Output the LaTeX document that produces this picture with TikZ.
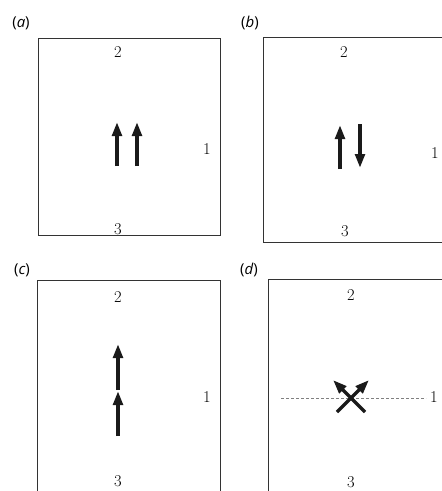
\documentclass[tikz,border=0pt]{standalone}
\usepackage{fontspec}
\newfontfamily\labfont{Open Sans}
\usetikzlibrary{arrows.meta}
\definecolor{boxc}{HTML}{333333}
\definecolor{arrc}{HTML}{1A1A1A}
\tikzset{
  panelbox/.style={draw=boxc, line width=0.9pt},
  spinarrow/.style={draw=arrc, line width=3.5pt, -{Triangle[length=14pt,width=9.5pt]}},
  num/.style={inner sep=0pt, text=black, font=\fontsize{16.5}{17}\selectfont},
  panlab/.style={inner sep=0pt, text=black, font=\labfont\fontsize{15}{16}\selectfont},
  guide/.style={draw=gray, line width=0.8pt, dash pattern=on 3pt off 2pt},
}
\begin{document}
\begin{tikzpicture}[x=1pt,y=-1pt]
\useasboundingbox (0,0) rectangle (442,491);
% panel labels
\node[panlab] (la) at (21,23) {(\textit{a})};
\node[panlab] (lb) at (250,23) {(\textit{b})};
\node[panlab] (lc) at (22,270) {(\textit{c})};
\node[panlab] (ld) at (249,270) {(\textit{d})};
% boxes
\draw[panelbox] (38,38) rectangle (220,235);
\draw[panelbox] (443,37) -- (263,37) -- (263,242) -- (443,242);
\draw[panelbox] (37,492) -- (37,280) -- (220,280) -- (220,492);
\draw[panelbox] (268,492) -- (268,279) -- (443,279);
% numbers (a)
\node[num] (a2) at (118,52.5) {2};
\node[num] (a3) at (118,229) {3};
\node[num] (a1) at (207,149) {1};
% numbers (b)
\node[num] (b2) at (344,52.5) {2};
\node[num] (b3) at (345,231) {3};
\node[num] (b1) at (435,153) {1};
% numbers (c)
\node[num] (c2) at (118,297) {2};
\node[num] (c3) at (118,481) {3};
\node[num] (c1) at (207,397) {1};
% numbers (d)
\node[num] (d2) at (351,295) {2};
\node[num] (d3) at (351,482) {3};
\node[num] (d1) at (434,397) {1};
% arrow coordinates
\coordinate (aAs) at (117,166); \coordinate (aAe) at (117,122);
\coordinate (aBs) at (137,166); \coordinate (aBe) at (137,122);
\coordinate (bAs) at (340,169); \coordinate (bAe) at (340,125);
\coordinate (bBs) at (360,124); \coordinate (bBe) at (360,168);
\coordinate (cAs) at (118,436); \coordinate (cAe) at (118,391);
\coordinate (cBs) at (118,390); \coordinate (cBe) at (118,344);
\coordinate (dAs) at (365,412); \coordinate (dAe) at (333,380);
\coordinate (dBs) at (337,412); \coordinate (dBe) at (369,380);
\coordinate (gs) at (281,398); \coordinate (ge) at (426,398);
% dashed guide in (d)
\draw[guide] (gs) -- (ge);
% arrows
\draw[spinarrow] (aAs) -- (aAe);
\draw[spinarrow] (aBs) -- (aBe);
\draw[spinarrow] (bAs) -- (bAe);
\draw[spinarrow] (bBs) -- (bBe);
\draw[spinarrow] (cAs) -- (cAe);
\draw[spinarrow] (cBs) -- (cBe);
\draw[spinarrow] (dAs) -- (dAe);
\draw[spinarrow] (dBs) -- (dBe);
\end{tikzpicture}
\end{document}
